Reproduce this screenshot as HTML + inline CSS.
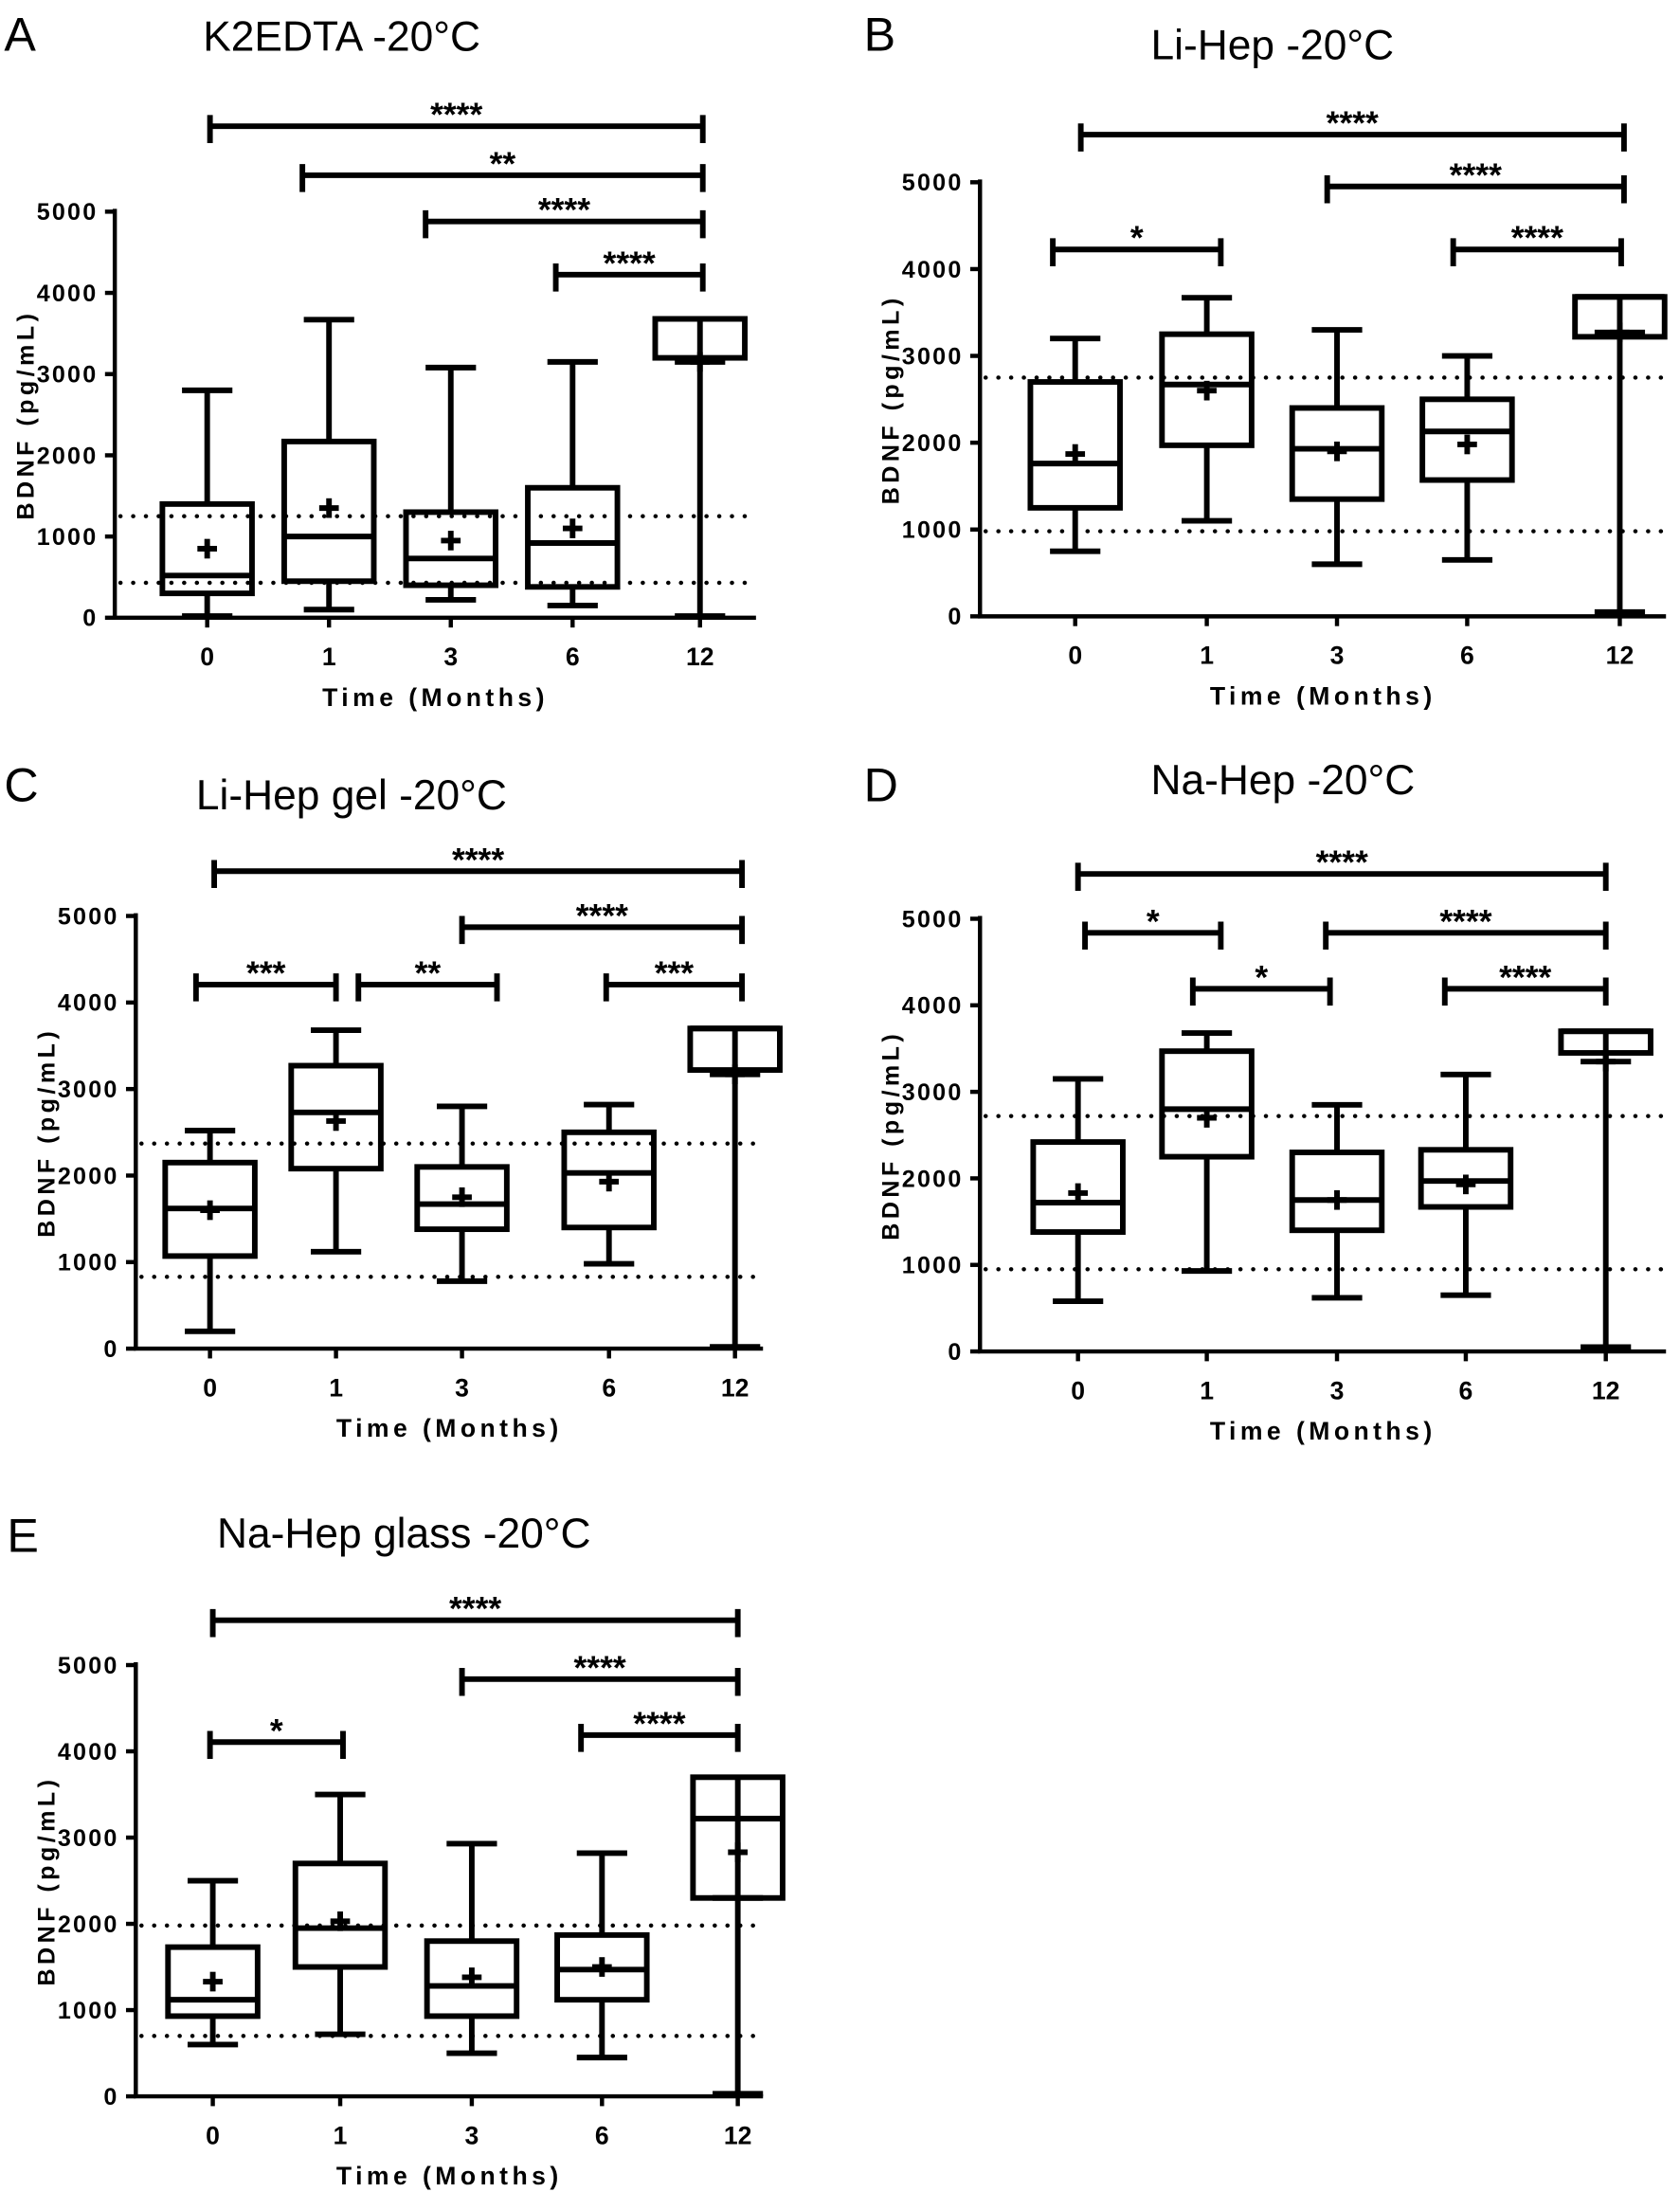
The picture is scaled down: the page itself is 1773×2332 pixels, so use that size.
<!DOCTYPE html>
<html><head><meta charset="utf-8"><style>
html,body{margin:0;padding:0;background:#fff;}
svg{display:block;}
text{font-family:"Liberation Sans",sans-serif;}
</style></head><body>
<svg id="s" width="1773" height="2332" viewBox="0 0 1200 1578" xmlns="http://www.w3.org/2000/svg"></svg>
<script>
const S=document.getElementById('s');let h='';
function P(o){
 const Y=v=>o.y0-v*(o.y0-o.yt)/5;
 h+=`<text x="${o.lx}" y="${o.ly}" font-size="34">${o.letter}</text>`;
 h+=`<text x="${o.tx}" y="${o.ty}" font-size="30">${o.title}</text>`;
 o.dots.forEach(d=>{h+=`<line x1="${o.x0+4}" x2="${o.xe}" y1="${Y(d)}" y2="${Y(d)}" stroke="#000" stroke-width="3" stroke-dasharray="0.1,9" stroke-linecap="round"/>`;});
 h+=`<path d="M${o.x0} ${o.yt-2}V${o.y0}H${o.xe}" fill="none" stroke="#000" stroke-width="3"/>`;
 for(let i=0;i<=5;i++){h+=`<line x1="${o.x0-7}" x2="${o.x0}" y1="${Y(i)}" y2="${Y(i)}" stroke="#000" stroke-width="3"/><text x="${o.x0-12}" y="${Y(i)+6}" font-size="17" font-weight="bold" text-anchor="end" letter-spacing="1.5">${i*1000}</text>`;}
 const labs=['0','1','3','6','12'];
 o.cats.forEach((c,i)=>{h+=`<line x1="${c}" x2="${c}" y1="${o.y0}" y2="${o.y0+7}" stroke="#000" stroke-width="3"/><text x="${c}" y="${o.y0+34}" font-size="18" font-weight="bold" text-anchor="middle">${labs[i]}</text>`;});
 const xm=(o.x0+o.xe)/2;
 h+=`<text x="${xm}" y="${o.y0+63}" font-size="18" font-weight="bold" text-anchor="middle" letter-spacing="3">Time (Months)</text>`;
 const ym=(o.y0+o.yt)/2;
 h+=`<text transform="translate(${o.x0-58},${ym}) rotate(-90)" font-size="17" font-weight="bold" text-anchor="middle" letter-spacing="3">BDNF (pg/mL)</text>`;
 o.data.forEach((d,i)=>{const c=o.cats[i];const [lo,q1,md,q3,hi,mn]=d;
  h+=`<g stroke="#000" stroke-width="4" fill="none">`;
  h+=`<line x1="${c}" x2="${c}" y1="${Y(hi)}" y2="${Y(q3)}"/><line x1="${c}" x2="${c}" y1="${Y(q1)}" y2="${Y(lo)}"/>`;
  h+=`<line x1="${c-18}" x2="${c+18}" y1="${Y(hi)}" y2="${Y(hi)}"/><line x1="${c-18}" x2="${c+18}" y1="${Y(lo)}" y2="${Y(lo)}"/>`;
  h+=`<rect x="${c-32}" y="${Y(q3)}" width="64" height="${Y(q1)-Y(q3)}"/>`;
  h+=`<line x1="${c-32}" x2="${c+32}" y1="${Y(md)}" y2="${Y(md)}"/>`;
  h+=`<line x1="${c-7}" x2="${c+7}" y1="${Y(mn)}" y2="${Y(mn)}"/><line x1="${c}" x2="${c}" y1="${Y(mn)-7}" y2="${Y(mn)+7}"/>`;
  h+=`</g>`;});
 o.br.forEach(b=>{const [y,a,e,l]=b;
  h+=`<path d="M${a} ${y-8}V${y+12}M${a} ${y}H${e}M${e} ${y-8}V${y+12}" fill="none" stroke="#000" stroke-width="4"/>`;
  h+=`<text x="${(a+e)/2}" y="${y}" font-size="24" font-weight="bold" text-anchor="middle">${l}</text>`;});
}
P({letter:'A',lx:3,ly:36,title:'K2EDTA -20°C',tx:145,ty:36,x0:82,y0:441,yt:151,xe:540,
 cats:[148,235,322,409,500],dots:[1.25,0.43],
 data:[[0.02,0.3,0.52,1.4,2.8,0.85],[0.1,0.45,1.0,2.17,3.67,1.35],[0.22,0.4,0.73,1.3,3.08,0.95],[0.15,0.38,0.92,1.6,3.15,1.1],[0.02,3.2,3.68,3.68,3.15,3.15]],
 br:[[90,150,502,'****'],[125,216,502,'**'],[158,304,502,'****'],[196,397,502,'****']]});
P({letter:'B',lx:617,ly:36,title:'Li-Hep -20°C',tx:822,ty:42,x0:700,y0:440,yt:130,xe:1190,
 cats:[768,862,955,1048,1157],dots:[2.75,0.98],
 data:[[0.75,1.25,1.76,2.7,3.2,1.87],[1.1,1.97,2.67,3.25,3.67,2.6],[0.6,1.35,1.93,2.4,3.3,1.9],[0.65,1.57,2.13,2.5,3.0,1.98],[0.05,3.22,3.68,3.68,3.27,3.27]],
 br:[[96,772,1160,'****'],[133,948,1160,'****'],[178,752,872,'*'],[178,1038,1158,'****']]});
P({letter:'C',lx:3,ly:572,title:'Li-Hep gel -20°C',tx:140,ty:578,x0:97,y0:963,yt:654,xe:545,
 cats:[150,240,330,435,525],dots:[2.37,0.83],
 data:[[0.2,1.07,1.62,2.15,2.52,1.6],[1.12,2.08,2.73,3.27,3.68,2.63],[0.78,1.38,1.67,2.1,2.8,1.75],[0.98,1.4,2.03,2.5,2.82,1.93],[0.02,3.22,3.7,3.7,3.17,3.17]],
 br:[[622,153,530,'****'],[662,330,530,'****'],[703,140,240,'***'],[703,256,355,'**'],[703,433,530,'***']]});
P({letter:'D',lx:617,ly:572,title:'Na-Hep -20°C',tx:822,ty:567,x0:700,y0:965,yt:656,xe:1190,
 cats:[770,862,955,1047,1147],dots:[2.72,0.95],
 data:[[0.58,1.38,1.72,2.42,3.15,1.83],[0.93,2.25,2.8,3.47,3.68,2.7],[0.62,1.4,1.75,2.3,2.85,1.75],[0.65,1.67,1.97,2.33,3.2,1.93],[0.05,3.45,3.7,3.7,3.35,3.35]],
 br:[[624,770,1147,'****'],[666,775,872,'*'],[666,947,1147,'****'],[706,852,950,'*'],[706,1032,1147,'****']]});
P({letter:'E',lx:5,ly:1108,title:'Na-Hep glass -20°C',tx:155,ty:1105,x0:97,y0:1497,yt:1189,xe:545,
 cats:[152,243,337,430,527],dots:[1.98,0.7],
 data:[[0.6,0.93,1.12,1.73,2.5,1.33],[0.72,1.5,1.95,2.7,3.5,2.03],[0.5,0.93,1.28,1.8,2.93,1.38],[0.45,1.12,1.47,1.87,2.82,1.5],[0.03,2.3,3.22,3.7,2.3,2.83]],
 br:[[1157,152,527,'****'],[1199,330,527,'****'],[1244,150,245,'*'],[1239,415,527,'****']]});
S.innerHTML=h;
</script>
</body></html>
